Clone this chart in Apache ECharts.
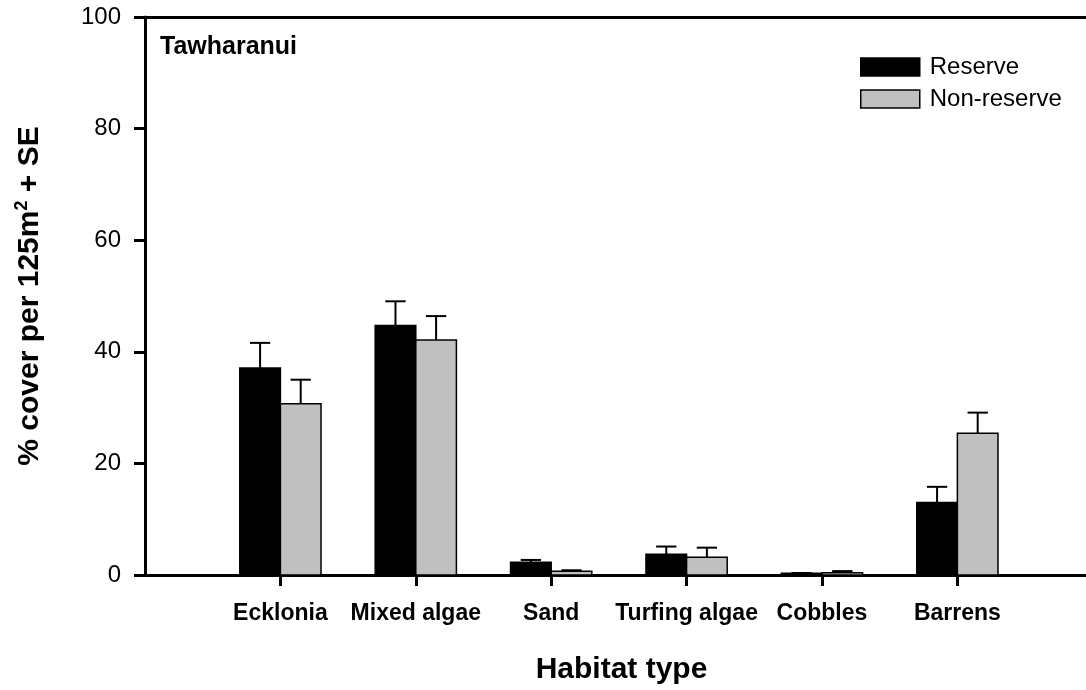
<!DOCTYPE html>
<html>
<head>
<meta charset="utf-8">
<title>Tawharanui habitat cover</title>
<script src="https://cdn.jsdelivr.net/npm/echarts@6/dist/echarts.min.js"></script>
<style>
  html, body { margin: 0; padding: 0; background: #fff; }
  #chart { width: 1086px; height: 690px; }
</style>
</head>
<body>
<div id="chart"></div>
<script>
// Habitat categories along the x axis (placed at x = 1..6)
const habitats = ['Ecklonia', 'Mixed algae', 'Sand', 'Turfing algae', 'Cobbles', 'Barrens'];

// Mean % cover per 125 m² and standard errors
const reserveMean = [37.1, 44.7, 2.3, 3.7, 0.3, 13.0];
const reserveSE = [4.5, 4.35, 0.4, 1.4, 0.05, 2.8];
const nonReserveMean = [30.7, 42.1, 0.65, 3.2, 0.4, 25.4];
const nonReserveSE = [4.3, 4.3, 0.2, 1.7, 0.3, 3.7];

const yTicks = [0, 20, 40, 60, 80, 100];

const FONT = "'Liberation Sans', Arial, Helvetica, sans-serif";
const positions = habitats.map((_, i) => i + 1);

// Bar plus upper error bar; side = -1 draws left of the tick, +1 right of it
function makeRender(side, fill) {
  return function (params, api) {
    const x = api.value(0);
    const mean = api.value(1);
    const se = api.value(2);
    const unit = api.size([1, 0])[0];
    const w = unit * 0.3;
    const base = api.coord([x, 0]);
    const top = api.coord([x, mean]);
    const err = api.coord([x, mean + se]);
    const left = side < 0 ? base[0] - w : base[0];
    const cx = left + w / 2;
    const cap = w * 0.5;
    return {
      type: 'group',
      children: [
        {
          type: 'rect',
          shape: { x: left, y: top[1], width: w, height: base[1] - top[1] },
          style: { fill: fill, stroke: '#000', lineWidth: 1.5 }
        },
        {
          type: 'line',
          shape: { x1: cx, y1: top[1], x2: cx, y2: err[1] },
          style: { stroke: '#000', lineWidth: 2 }
        },
        {
          type: 'line',
          shape: { x1: cx - cap / 2, y1: err[1], x2: cx + cap / 2, y2: err[1] },
          style: { stroke: '#000', lineWidth: 2 }
        }
      ]
    };
  };
}

const chart = echarts.init(document.getElementById('chart'), null, { renderer: 'canvas' });

chart.setOption({
  backgroundColor: '#fff',
  animation: false,
  textStyle: { fontFamily: FONT },
  title: {
    text: 'Tawharanui',
    left: 155,
    top: 30,
    textStyle: { fontFamily: FONT, fontWeight: 'bold', fontSize: 25, color: '#000' }
  },
  legend: {
    orient: 'vertical',
    left: 855,
    top: 50,
    itemWidth: 59,
    itemHeight: 18,
    itemGap: 8,
    icon: 'rect',
    textStyle: { fontFamily: FONT, fontSize: 24, color: '#000', padding: [0, 0, 0, 5] },
    data: [
      { name: 'Reserve', itemStyle: { color: '#000', borderColor: '#000', borderWidth: 1.5 } },
      { name: 'Non-reserve', itemStyle: { color: '#c0c0c0', borderColor: '#000', borderWidth: 1.5 } }
    ]
  },
  grid: { left: 145, right: 0, top: 17, bottom: 113, containLabel: false },
  xAxis: [
    {
      type: 'value',
      min: 0,
      max: 6.95,
      position: 'bottom',
      name: 'Habitat type',
      nameLocation: 'middle',
      nameGap: 80,
      nameTextStyle: { fontFamily: FONT, fontWeight: 'bold', fontSize: 30, color: '#000', padding: [0, 0, 0, 12] },
      axisLine: { show: true, onZero: false, lineStyle: { color: '#000', width: 3 } },
      axisTick: { show: true, inside: false, length: 11, customValues: positions, lineStyle: { color: '#000', width: 3 } },
      axisLabel: {
        customValues: positions,
        formatter: v => habitats[Math.round(v) - 1] || '',
        fontFamily: FONT,
        fontWeight: 'bold',
        fontSize: 23,
        color: '#000',
        margin: 27
      },
      splitLine: { show: false }
    },
    {
      type: 'value',
      min: 0,
      max: 6.95,
      position: 'top',
      axisLine: { show: true, onZero: false, lineStyle: { color: '#000', width: 3 } },
      axisTick: { show: false },
      axisLabel: { show: false },
      splitLine: { show: false }
    }
  ],
  yAxis: {
    type: 'value',
    min: 0,
    max: 100,
    interval: 20,
    name: '% cover per 125m{sup|2} + SE',
    nameLocation: 'middle',
    nameGap: 98,
    nameTextStyle: {
      fontFamily: FONT,
      fontWeight: 'bold',
      fontSize: 30,
      color: '#000',
      rich: {
        sup: { fontFamily: FONT, fontWeight: 'bold', fontSize: 18, color: '#000', verticalAlign: 'bottom', padding: [0, 0, 16, 0] }
      }
    },
    axisLine: { show: true, lineStyle: { color: '#000', width: 3 } },
    axisTick: { show: true, length: 11, customValues: yTicks, lineStyle: { color: '#000', width: 3 } },
    axisLabel: {
      customValues: yTicks,
      fontFamily: FONT,
      fontSize: 24,
      color: '#000',
      margin: 24
    },
    splitLine: { show: false }
  },
  series: [
    {
      name: 'Reserve',
      type: 'custom',
      xAxisIndex: 0,
      itemStyle: { color: '#000' },
      renderItem: makeRender(-1, '#000'),
      encode: { x: 0, y: 1 },
      data: positions.map((p, i) => [p, reserveMean[i], reserveSE[i]])
    },
    {
      name: 'Non-reserve',
      type: 'custom',
      xAxisIndex: 0,
      itemStyle: { color: '#c0c0c0' },
      renderItem: makeRender(1, '#c0c0c0'),
      encode: { x: 0, y: 1 },
      data: positions.map((p, i) => [p, nonReserveMean[i], nonReserveSE[i]])
    }
  ]
});
</script>
</body>
</html>
